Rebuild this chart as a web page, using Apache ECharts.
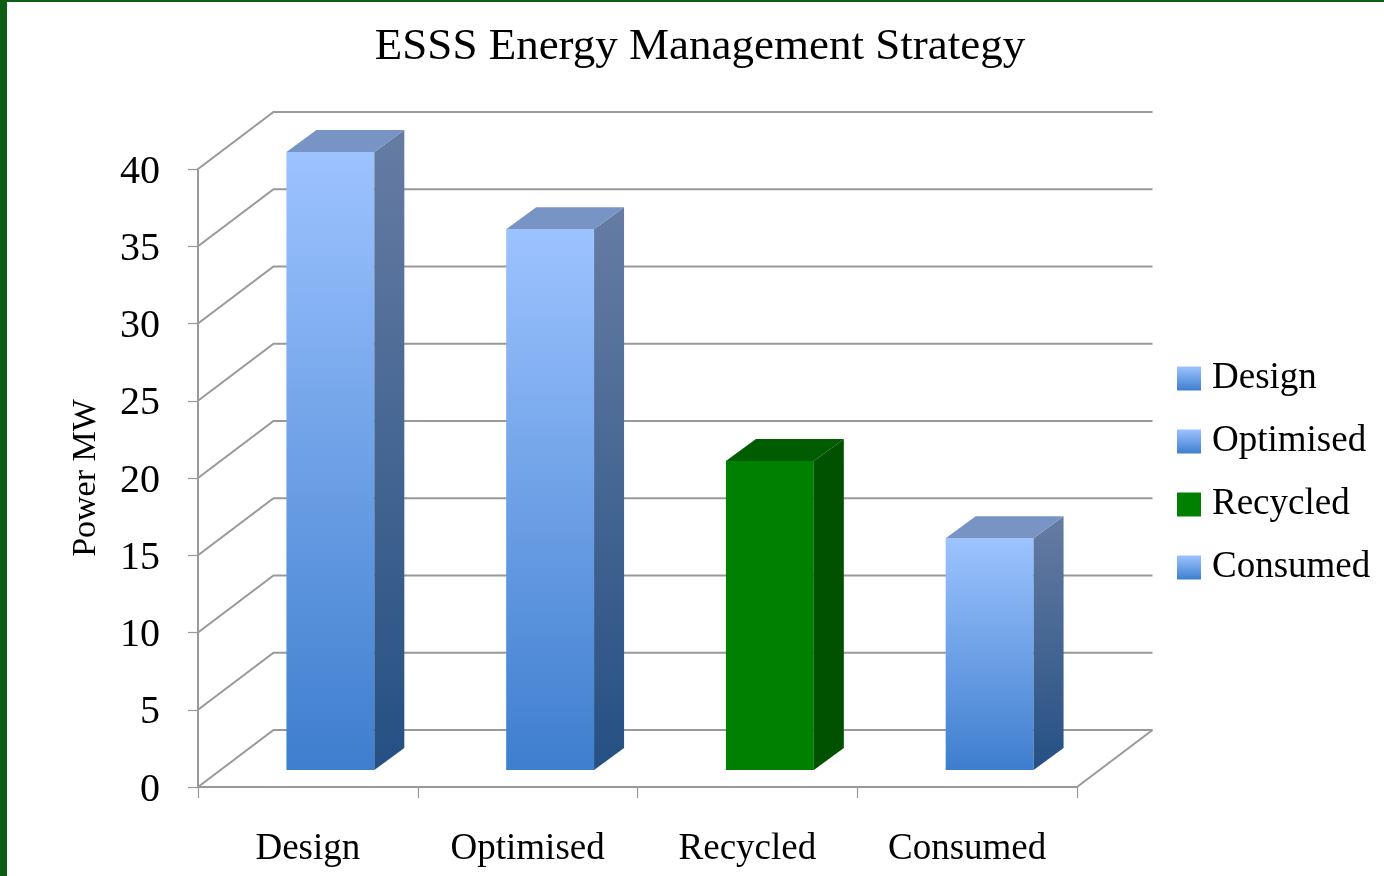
<!DOCTYPE html>
<html>
<head>
<meta charset="utf-8">
<title>ESSS Energy Management Strategy</title>
<style>html,body{margin:0;padding:0;background:#fff}#c{width:1384px;height:876px}</style>
<script src="https://cdn.jsdelivr.net/npm/echarts@6/dist/echarts.min.js"></script>
</head>
<body>
<div id="c"></div>
<script>
const categories = ['Design', 'Optimised', 'Recycled', 'Consumed'];
const values = [40, 35, 20, 15];
const yTicks = [0, 5, 10, 15, 20, 25, 30, 35, 40];

const FONT = '"Liberation Serif"';
const TXT = '#000';
const LINE = '#999999';
const WALL_DX = 75.5, WALL_DY = 57;    // depth of the chart box
const BAR_DX = 22.5, BAR_DY = 17;      // bar front face inside the box
const DEPTH_X = 30, DEPTH_Y = 22;      // depth of one bar
const v = (a, b) => new echarts.graphic.LinearGradient(0, 0, 0, 1, [{offset: 0, color: a}, {offset: 1, color: b}]);
const BLUE = {front: v('#9dc3ff', '#3e7ece'), side: v('#667ca3', '#255083'), top: '#7794c4'};
const GREEN = {front: '#008000', side: '#005200', top: '#005c00'};
const palette = [BLUE, BLUE, GREEN, BLUE];

function renderWall(params, api) {
  const rect = params.coordSys;
  const y = api.coord([0, api.value(0)])[1];
  const x0 = rect.x, x1 = rect.x + rect.width;
  const style = {stroke: LINE, lineWidth: 2, fill: null};
  const children = [{
    type: 'polyline',
    shape: {points: [[x0, y], [x0 + WALL_DX, y - WALL_DY], [x1 + WALL_DX, y - WALL_DY]]},
    style: style
  }];
  if (api.value(0) === 0) {
    children.push({
      type: 'line',
      shape: {x1: x1, y1: y, x2: x1 + WALL_DX, y2: y - WALL_DY},
      style: style
    });
  }
  return {type: 'group', children: children};
}

function barRenderer(colors) {
  return function (params, api) {
    const top = api.coord([api.value(0), api.value(1)]);
    const base = api.coord([api.value(0), 0]);
    const w = api.size([1, 0])[0] * 0.4;
    const L = top[0] + BAR_DX - w / 2, R = L + w;
    const T = top[1] - BAR_DY, B = base[1] - BAR_DY;
    return {
      type: 'group',
      children: [
        {type: 'rect', shape: {x: L, y: T, width: w, height: B - T}, style: {fill: colors.front}},
        {type: 'polygon', shape: {points: [[R, T], [R + DEPTH_X, T - DEPTH_Y], [R + DEPTH_X, B - DEPTH_Y], [R, B]]}, style: {fill: colors.side}},
        {type: 'polygon', shape: {points: [[L, T], [L + DEPTH_X, T - DEPTH_Y], [R + DEPTH_X, T - DEPTH_Y], [R, T]]}, style: {fill: colors.top}}
      ]
    };
  };
}

const series = [{
  type: 'custom',
  name: 'wall',
  z: 1,
  silent: true,
  renderItem: renderWall,
  encode: {y: 0},
  data: yTicks.map(t => [t])
}].concat(categories.map((name, i) => ({
  type: 'custom',
  name: name,
  z: 3,
  silent: true,
  renderItem: barRenderer(palette[i]),
  encode: {x: 0, y: 1},
  itemStyle: {color: palette[i].front},
  data: [[i, values[i]]]
})));

const chart = echarts.init(document.getElementById('c'), null, {renderer: 'canvas'});
chart.setOption({
  animation: false,
  backgroundColor: '#fff',
  title: {
    text: 'ESSS Energy Management Strategy',
    left: 695, top: 20, textAlign: 'center',
    textStyle: {fontFamily: FONT, fontSize: 45, fontWeight: 'normal', color: TXT}
  },
  grid: {left: 198, top: 169, width: 879, height: 618, containLabel: false},
  legend: {
    orient: 'vertical', left: 1172, top: 355,
    itemWidth: 24, itemHeight: 24, itemGap: 26,
    selectedMode: false,
    icon: 'rect',
    formatter: n => n,
    textStyle: {fontFamily: FONT, fontSize: 37, color: TXT, padding: [0, 0, 0, 6], lineHeight: 24},
    data: categories.map((name, i) => ({name: name, itemStyle: {color: palette[i].front}}))
  },
  xAxis: {
    type: 'category',
    data: categories,
    axisLine: {lineStyle: {color: LINE, width: 2}},
    axisTick: {show: true, alignWithLabel: false, length: 11, lineStyle: {color: LINE, width: 1.2}},
    axisLabel: {margin: 44, fontFamily: FONT, fontSize: 37, color: TXT},
    splitLine: {show: false}
  },
  yAxis: {
    type: 'value',
    min: 0, max: 40, interval: 5,
    name: 'Power MW',
    nameLocation: 'middle',
    nameGap: 95,
    nameTextStyle: {fontFamily: FONT, fontSize: 34, color: TXT},
    axisLine: {show: true, lineStyle: {color: LINE, width: 2}},
    axisTick: {show: true, length: 10, lineStyle: {color: LINE, width: 1.2}},
    axisLabel: {margin: 38, fontFamily: FONT, fontSize: 40, color: TXT, verticalAlign: 'top', lineHeight: 6},
    splitLine: {show: false}
  },
  graphic: [
    {type: 'rect', shape: {x: 0, y: 0, width: 7, height: 876}, style: {fill: '#0b5e13'}, silent: true},
    {type: 'rect', shape: {x: 0, y: 0, width: 1384, height: 2}, style: {fill: '#0b5e13'}, silent: true}
  ],
  series: series
});
</script>
</body>
</html>
